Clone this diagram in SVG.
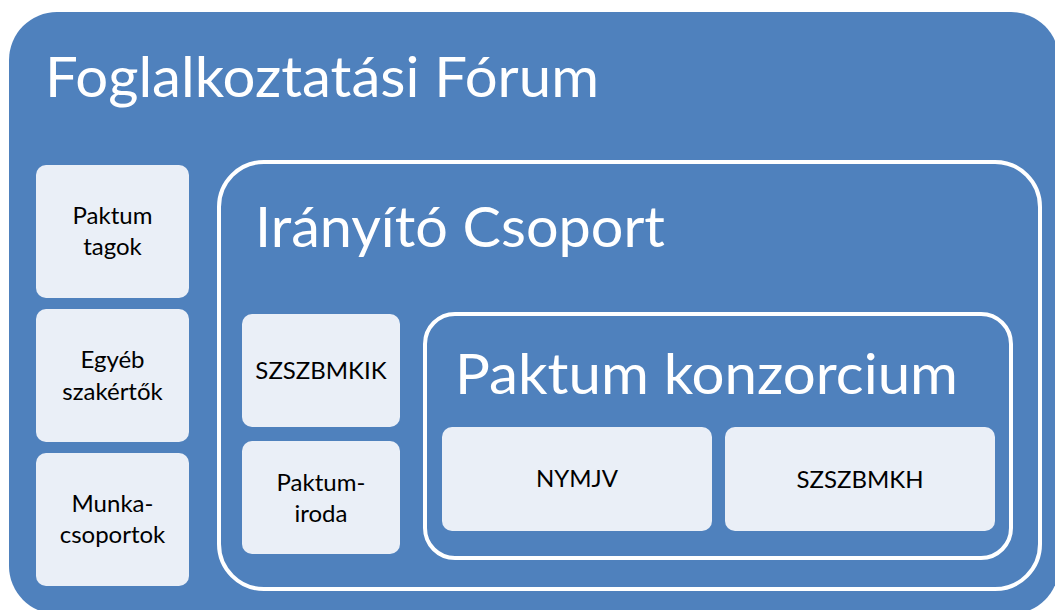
<svg xmlns="http://www.w3.org/2000/svg" width="1055" height="610" viewBox="0 0 1055 610">
<style>
.bg{fill:#4F81BD}
.frame{fill:none;stroke:#FFFFFF;stroke-width:4}
.box{fill:#EAEFF7}
.big{font-family:Lato,"Open Sans","Liberation Sans",sans-serif;fill:#FFFFFF;font-size:57px}
.lbl{font-family:Lato,"Open Sans","Liberation Sans",sans-serif;fill:#000000;font-size:24px;text-anchor:middle}
</style>
<rect width="1055" height="610" fill="#FFFFFF"/>
<g id="forum">
<rect class="bg" x="9" y="12" width="1050" height="602" rx="48"/>
<text class="big" x="45" y="97" textLength="554" lengthAdjust="spacingAndGlyphs">Foglalkoztatási Fórum</text>
</g>
<g id="paktum-tagok">
<rect class="box" x="36" y="165" width="153" height="133" rx="10"/>
<text class="lbl" x="112.5" y="224">Paktum</text>
<text class="lbl" x="112.5" y="255">tagok</text>
</g>
<g id="egyeb-szakertok">
<rect class="box" x="36" y="309" width="153" height="133" rx="10"/>
<text class="lbl" x="112.5" y="368">Egyéb</text>
<text class="lbl" x="112.5" y="400">szakértők</text>
</g>
<g id="munkacsoportok">
<rect class="box" x="36" y="453" width="153" height="133" rx="10"/>
<text class="lbl" x="112.5" y="512">Munka-</text>
<text class="lbl" x="112.5" y="543">csoportok</text>
</g>
<g id="iranyito-csoport">
<rect class="frame" x="219" y="162" width="821" height="427" rx="45"/>
<text class="big" x="255" y="247" textLength="410" lengthAdjust="spacingAndGlyphs">Irányító Csoport</text>
</g>
<g id="szszbmkik">
<rect class="box" x="242" y="314" width="158" height="113" rx="10"/>
<text class="lbl" x="321" y="379">SZSZBMKIK</text>
</g>
<g id="paktumiroda">
<rect class="box" x="242" y="441" width="158" height="113" rx="10"/>
<text class="lbl" x="321" y="491">Paktum-</text>
<text class="lbl" x="321" y="522">iroda</text>
</g>
<g id="paktum-konzorcium">
<rect class="frame" x="425" y="314" width="586" height="244" rx="30"/>
<text class="big" x="455" y="394" textLength="503" lengthAdjust="spacingAndGlyphs">Paktum konzorcium</text>
</g>
<g id="nymjv">
<rect class="box" x="442" y="427" width="270" height="104" rx="10"/>
<text class="lbl" x="577" y="487">NYMJV</text>
</g>
<g id="szszbmkh">
<rect class="box" x="725" y="427" width="270" height="104" rx="10"/>
<text class="lbl" x="860" y="488">SZSZBMKH</text>
</g>
<g id="connectors"></g>
</svg>
